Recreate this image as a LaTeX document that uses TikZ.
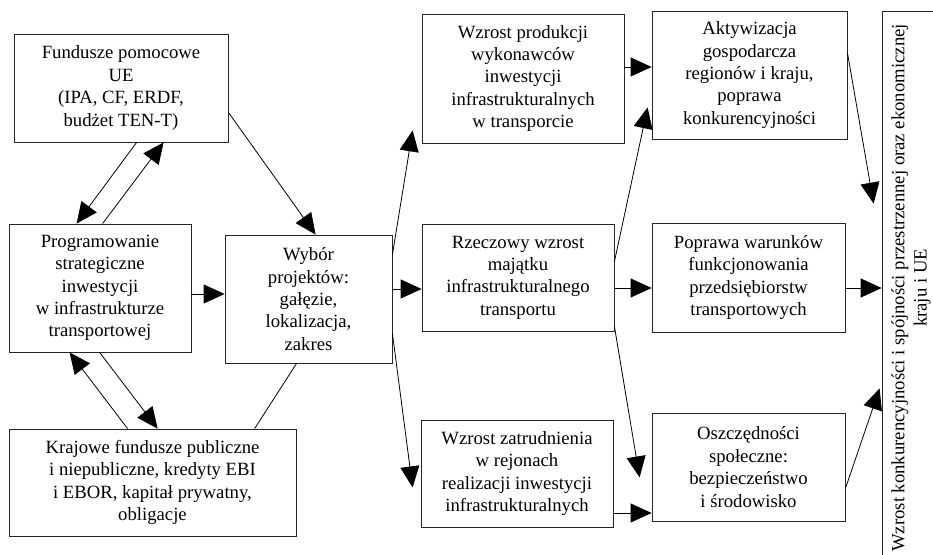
\documentclass[tikz,border=0pt]{standalone}
\usepackage{fontspec}
\usepackage{graphicx}
\setmainfont{Liberation Serif}
\usetikzlibrary{arrows.meta,calc}
\begin{document}
\begin{tikzpicture}[x=1pt,y=1pt,
  box/.style={draw=black!85, line width=0.8pt, inner sep=0pt, align=center,
    font=\fontsize{18.7}{22.4}\selectfont},
  arr/.style={draw=black, line width=0.8pt, -{Triangle[length=21pt,width=19pt]}},
  ln/.style={draw=black, line width=0.8pt}]
\fill[white] (0,0) rectangle (933,554);
\useasboundingbox (0,0) rectangle (933,554);

\node[box, minimum width=214pt, minimum height=108pt] (F) at (121,466)
  {Fundusze pomocowe\\UE\\(IPA, CF, ERDF,\\budżet TEN-T)};
\node[box, minimum width=182pt, minimum height=128pt] (P) at (100,266)
  {Programowanie\\strategiczne\\inwestycji\\w infrastrukturze\\transportowej};
\node[box, minimum width=287pt, minimum height=107pt] (K) at (152.5,71.5)
  {Krajowe fundusze publiczne\\i niepubliczne, kredyty EBI\\i EBOR, kapitał prywatny,\\obligacje};
\node[box, minimum width=167pt, minimum height=128pt] (W) at (308.5,255)
  {Wybór\\projektów:\\gałęzie,\\lokalizacja,\\zakres};
\node[box, minimum width=202pt, minimum height=129pt] (WP) at (523,475.5)
  {Wzrost produkcji\\wykonawców\\inwestycji\\infrastrukturalnych\\w transporcie};
\node[box, minimum width=192pt, minimum height=107pt] (R) at (518,276.5)
  {Rzeczowy wzrost\\majątku\\infrastrukturalnego\\transportu};
\node[box, minimum width=192pt, minimum height=107pt] (Z) at (517,80.5)
  {Wzrost zatrudnienia\\w rejonach\\realizacji inwestycji\\infrastrukturalnych};
\node[box, minimum width=195pt, minimum height=128pt] (A) at (749.5,479)
  {Aktywizacja\\gospodarcza\\regionów i kraju,\\poprawa\\konkurencyjności};
\node[box, minimum width=193pt, minimum height=109pt] (Pop) at (748.5,276.5)
  {Poprawa warunków\\funkcjonowania\\przedsiębiorstw\\transportowych};
\node[box, minimum width=193pt, minimum height=108pt] (O) at (748.5,87)
  {Oszczędności\\społeczne:\\bezpieczeństwo\\i środowisko};
\node[box, minimum width=58pt, minimum height=554pt] (Right) at (911,266)
  {\rotatebox{90}{\begin{tabular}{@{}c@{}}Wzrost konkurencyjności i spójności przestrzennej oraz ekonomicznej\\kraju i UE\end{tabular}}};

\draw[arr] ($(F.south east)+(0,30)$) -- ($(W.north west)+(91,0)$);
\draw[arr] ($(F.south west)+(123,0)$) -- ($(P.north west)+(68,0)$);
\draw[arr] ($(P.north west)+(94,0)$) -- ($(F.south west)+(150,0)$);
\draw[arr] ($(P.east)+(0,-6)$) -- ($(W.west)+(0,5)$);
\draw[arr] ($(K.north west)+(119,0)$) -- ($(P.south west)+(61,0)$);
\draw[arr] ($(P.south west)+(91,0)$) -- ($(K.north west)+(149,0)$);
\draw[ln] ($(K.north west)+(246,0)$) -- ($(W.south west)+(72,0)$);
\draw[arr] ($(W.north east)+(0,-20)$) -- ($(WP.south west)+(-9,13)$);
\draw[arr] ($(W.east)+(0,10)$) -- ($(R.west)+(0,-11.5)$);
\draw[arr] ($(W.south east)+(0,30)$) -- ($(Z.south west)+(-8,40)$);
\draw[arr] ($(WP.east)+(0,11.5)$) -- ($(A.west)+(0,8)$);
\draw[arr] ($(R.north east)+(0,-38)$) -- ($(A.south west)+(-4,32)$);
\draw[arr] ($(R.east)+(0,-10.5)$) -- ($(Pop.west)+(0,-10.5)$);
\draw[arr] ($(R.south east)+(0,5)$) -- ($(O.south west)+(-12,44)$);
\draw[arr] ($(Z.east)+(0,-39.5)$) -- ($(O.west)+(0,-46)$);
\draw[arr] ($(A.north east)+(0,-42)$) -- ($(Right.north west)+(-8,-193)$);
\draw[arr] ($(Pop.east)+(0,-10.5)$) -- (Right.west);
\draw[arr] ($(O.south east)+(0,33)$) -- ($(Right.south west)+(-2,177)$);
\end{tikzpicture}
\end{document}
